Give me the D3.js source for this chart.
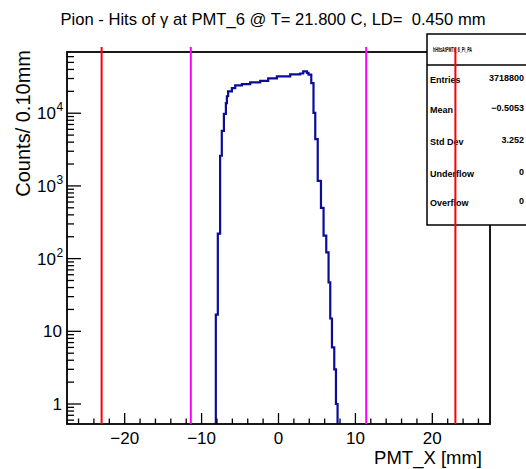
<!DOCTYPE html>
<html>
<head>
<meta charset="utf-8">
<script src="https://cdn.jsdelivr.net/npm/d3@7"></script>
<style>
  html, body { margin: 0; padding: 0; background: #fff; }
  svg { display: block; }
  text { font-family: "Liberation Sans", Arial, Helvetica, sans-serif; }
</style>
</head>
<body>
<svg id="chart" width="526" height="469"></svg>
<script>
// ---------- data ----------
const titleText = "Pion - Hits of \u03b3 at PMT_6 @ T= 21.800 C, LD=  0.450 mm";
const xTitle = "PMT_X [mm]";
const yTitle = "Counts/ 0.10mm";
// histogram bin edges (mm) and counts
const binEdges = [-8.15,-7.89,-7.59,-7.37,-7.10,-6.84,-6.71,-6.55,-6.06,-5.63,-4.76,-3.68,-2.38,-1.34,-0.21,1.52,2.82,3.21,3.70,3.90,4.26,4.55,4.78,5.10,5.52,5.86,6.21,6.51,6.73,6.95,7.25,7.47,7.68];
const binCounts = [17,220,2600,5700,9800,13800,17100,20000,22200,24200,25200,26600,27900,30200,32100,34200,35200,37600,35800,33900,26000,10100,4400,1170,500,207,122,47,15,6,3,1];
// vertical marker lines
const redLines = [-23, 23];
const magentaLines = [-11.4, 11.4];
// axis ticks
const xMajorTicks = [-20, -10, 0, 10, 20];
const xTickLabels = ["\u221220", "\u221210", "0", "10", "20"];
const yMajorTicks = [1, 10, 100, 1000, 10000];
const yTickBase = ["1", "10", "10", "10", "10"];
const yTickExp = ["", "", "2", "3", "4"];
// stats box
const statsName = "hHitsAtPMTx_6_Pi_PA";
const statsLabels = ["Entries", "Mean", "Std Dev", "Underflow", "Overflow"];
const statsValues = ["3718800", "\u22120.5053", "3.252", "0", "0"];

// ---------- layout ----------
const svg = d3.select("#chart");
const L = 67, R = 490, T = 52, B = 424;
const x = d3.scaleLinear().domain([-27.5, 27.5]).range([L, R]);
const y = d3.scaleLog().domain([0.531, 69500]).range([B, T]);

// title
svg.append("text").attr("x", 273).attr("y", 25).attr("text-anchor", "middle")
  .attr("font-size", 16.6).style("white-space", "pre").text(titleText);

// histogram step path
const pts = [[binEdges[0], null]];
binCounts.forEach((c, i) => { pts.push([binEdges[i], c]); pts.push([binEdges[i + 1], c]); });
pts.push([binEdges[binEdges.length - 1], null]);
const line = d3.line()
  .x(d => x(d[0]))
  .y(d => d[1] === null ? B : y(d[1]));
svg.append("path").datum(pts).attr("d", line)
  .attr("fill", "none").attr("stroke", "#0c0c9c").attr("stroke-width", 2.2)
  .attr("stroke-linejoin", "miter");

// x axis ticks (inside, upward)
const xMinor = d3.range(-26, 27, 2).filter(v => !xMajorTicks.includes(v));
svg.append("g").selectAll("line").data(xMinor).join("line")
  .attr("x1", d => x(d)).attr("x2", d => x(d)).attr("y1", B).attr("y2", B - 5.5)
  .attr("stroke", "#000").attr("stroke-width", 1.3);
svg.append("g").selectAll("line").data(xMajorTicks).join("line")
  .attr("x1", d => x(d)).attr("x2", d => x(d)).attr("y1", B).attr("y2", B - 11)
  .attr("stroke", "#000").attr("stroke-width", 1.3);
svg.append("g").selectAll("text").data(xMajorTicks).join("text")
  .attr("x", d => x(d)).attr("y", 444).attr("text-anchor", "middle")
  .attr("font-size", 17).text((d, i) => xTickLabels[i]);

// y axis ticks (inside, rightward)
const yMinor = [];
[0.1, 1, 10, 100, 1000, 10000].forEach(dec => {
  for (let k = 2; k <= 9; k++) {
    const v = dec * k;
    if (v >= y.domain()[0] && v <= y.domain()[1]) yMinor.push(v);
  }
});
svg.append("g").selectAll("line").data(yMinor).join("line")
  .attr("x1", L).attr("x2", L + 7).attr("y1", d => y(d)).attr("y2", d => y(d))
  .attr("stroke", "#000").attr("stroke-width", 1.3);
svg.append("g").selectAll("line").data(yMajorTicks).join("line")
  .attr("x1", L).attr("x2", L + 14).attr("y1", d => y(d)).attr("y2", d => y(d))
  .attr("stroke", "#000").attr("stroke-width", 1.3);
svg.append("g").selectAll("text").data(yMajorTicks).join("text")
  .attr("x", (d, i) => yTickExp[i] ? 56 : 62)
  .attr("y", d => y(d) + 6).attr("text-anchor", "end").attr("font-size", 17)
  .text((d, i) => yTickBase[i]);
svg.append("g").selectAll("text").data(yMajorTicks.filter((d, i) => yTickExp[i]))
  .join("text")
  .attr("x", 56.5).attr("y", d => y(d) - 2).attr("font-size", 12)
  .text(d => yTickExp[yMajorTicks.indexOf(d)]);

// frame
svg.append("rect").attr("x", L).attr("y", T).attr("width", R - L).attr("height", B - T)
  .attr("fill", "none").attr("stroke", "#000").attr("stroke-width", 1.8);

// axis titles
svg.append("text").attr("x", 482).attr("y", 463.5).attr("text-anchor", "end")
  .attr("font-size", 18.5).text(xTitle);
svg.append("text").attr("transform", "translate(30,50) rotate(-90)")
  .attr("text-anchor", "end").attr("font-size", 20).text(yTitle);

// stats box
const sb = svg.append("g");
sb.append("rect").attr("x", 427).attr("y", 34).attr("width", 110).attr("height", 191)
  .attr("fill", "#fff").attr("stroke", "#000").attr("stroke-width", 1.5);
sb.append("line").attr("x1", 427).attr("x2", 526).attr("y1", 65).attr("y2", 65)
  .attr("stroke", "#000").attr("stroke-width", 1.5);
sb.append("text").attr("x", 433).attr("y", 52).attr("font-size", 7).attr("font-weight", "bold")
  .attr("textLength", 39).attr("lengthAdjust", "spacingAndGlyphs").text(statsName);
const rowsY = [83, 113, 145, 177, 206];
sb.selectAll("text.lab").data(statsLabels).join("text").attr("class", "lab")
  .attr("x", 430).attr("y", (d, i) => rowsY[i]).attr("font-size", 9).attr("font-weight", "bold")
  .text(d => d);
sb.selectAll("text.val").data(statsValues).join("text").attr("class", "val")
  .attr("x", 524).attr("y", (d, i) => rowsY[i] - 2).attr("text-anchor", "end")
  .attr("font-size", 9).attr("font-weight", "bold").text(d => d);

// vertical lines
svg.append("g").selectAll("line").data(magentaLines).join("line")
  .attr("x1", d => x(d)).attr("x2", d => x(d)).attr("y1", 47).attr("y2", B)
  .attr("stroke", "#ff00ff").attr("stroke-width", 2);
svg.append("g").selectAll("line").data(redLines).join("line")
  .attr("x1", d => x(d)).attr("x2", d => x(d)).attr("y1", 47).attr("y2", B)
  .attr("stroke", "#ff0000").attr("stroke-width", 2);
</script>
</body>
</html>
